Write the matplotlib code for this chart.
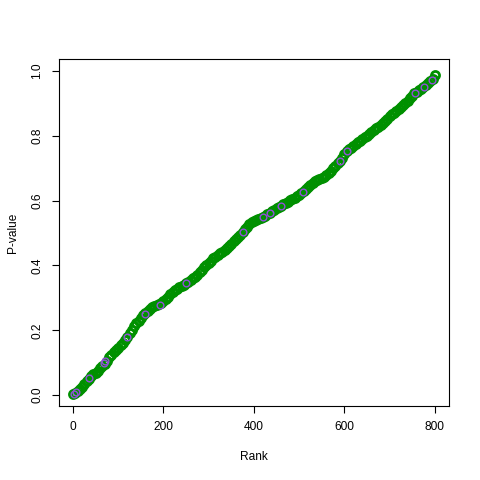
import matplotlib
matplotlib.use("Agg")
import matplotlib.pyplot as plt
import numpy as np

plt.rcParams['font.family'] = ['Liberation Sans', 'DejaVu Sans']

# sorted p-values, read every 5 ranks
ranks = np.arange(0, 801, 5)
pvals = [
    0.002, 0.007, 0.013, 0.019, 0.025, 0.034, 0.043, 0.051, 0.058, 0.064,
    0.069, 0.075, 0.082, 0.089, 0.097, 0.106, 0.116, 0.125, 0.134, 0.140,
    0.145, 0.153, 0.162, 0.170, 0.180, 0.191, 0.201, 0.212, 0.221, 0.230,
    0.238, 0.247, 0.253, 0.259, 0.265, 0.271, 0.275, 0.278, 0.282, 0.285,
    0.289, 0.296, 0.303, 0.311, 0.318, 0.323, 0.327, 0.332, 0.336, 0.341,
    0.345, 0.350, 0.355, 0.360, 0.365, 0.372, 0.379, 0.387, 0.394, 0.401,
    0.408, 0.415, 0.422, 0.427, 0.432, 0.437, 0.442, 0.447, 0.453, 0.460,
    0.467, 0.474, 0.481, 0.488, 0.495, 0.502, 0.511, 0.519, 0.528, 0.533,
    0.536, 0.539, 0.542, 0.545, 0.549, 0.553, 0.558, 0.562, 0.567, 0.571,
    0.576, 0.580, 0.585, 0.589, 0.593, 0.597, 0.601, 0.604, 0.609, 0.614,
    0.618, 0.623, 0.629, 0.635, 0.641, 0.648, 0.654, 0.660, 0.663, 0.666,
    0.669, 0.673, 0.678, 0.686, 0.693, 0.700, 0.707, 0.715, 0.722, 0.733,
    0.744, 0.754, 0.759, 0.764, 0.769, 0.774, 0.780, 0.785, 0.791, 0.796,
    0.801, 0.807, 0.812, 0.818, 0.823, 0.828, 0.834, 0.839, 0.846, 0.853,
    0.860, 0.866, 0.872, 0.878, 0.884, 0.889, 0.895, 0.902, 0.909, 0.917,
    0.924, 0.931, 0.936, 0.941, 0.946, 0.951, 0.957, 0.962, 0.968, 0.975,
    0.988,
]

# highlighted subset
hl_ranks = [3, 7, 35, 69, 71, 119, 159, 192, 250, 376, 420, 435, 460, 508,
            590, 605, 756, 776, 793]
hl_pvals = [0.004, 0.009, 0.052, 0.099, 0.105, 0.179, 0.250, 0.278, 0.346,
            0.503, 0.549, 0.562, 0.585, 0.627, 0.722, 0.753, 0.932, 0.951,
            0.972]

fig = plt.figure(figsize=(4.8, 4.8), dpi=100)
ax = fig.add_axes([0.122, 0.154, 0.813, 0.723])

ax.plot(ranks, pvals, 'o', mfc='none', mec='#009000', ms=5.8, mew=2.0)
ax.plot(hl_ranks, hl_pvals, 'o', mfc='none', mec='#9050D8', ms=4.8, mew=1.0)

ax.set_xlim(-32, 831)
ax.set_ylim(-0.034, 1.037)
ax.set_xticks([0, 200, 400, 600, 800])
ax.set_yticks([0.0, 0.2, 0.4, 0.6, 0.8, 1.0])
ax.set_yticklabels(['0.0', '0.2', '0.4', '0.6', '0.8', '1.0'], rotation=90, va='center')
ax.tick_params(direction='out', length=5, width=0.8, labelsize=8.6, pad=6)
for s in ax.spines.values():
    s.set_linewidth(0.8)

ax.set_xlabel('Rank', fontsize=8.6, labelpad=13)
ax.set_ylabel('P-value', fontsize=8.6, labelpad=9)

fig.savefig('out.png', dpi=100)
